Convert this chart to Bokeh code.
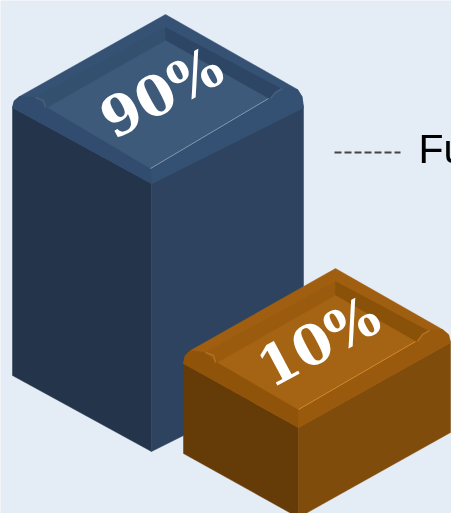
from bokeh.plotting import figure
from bokeh.embed import file_html
from bokeh.resources import INLINE
from bokeh.core.properties import value
from bokeh.models import Range1d

# ---- chart data ----
labels = ["90%", "10%"]
shares = [90, 10]
legend_label = "Fu"

# ---- page and styling ----
W, H = 451, 513
BG = "#E4ECF5"
palettes = [
    dict(left="#24344B", right="#2E435F", rim="#355174", lbev="#314C6E", rbev="#345073",
         wall_l="#33506F", wall_r="#2E4666", floor="#3E5A7A", hi="#8298B2", notch="#465F80"),
    dict(left="#653B08", right="#7F4C0C", rim="#A05F10", lbev="#8F540A", rbev="#9A5A0D",
         wall_l="#9A5B0E", wall_r="#8A5109", floor="#A56413", hi="#D08A30", notch="#AE7022"),
]
# box geometry in screen pixels (structure of the isometric drawing)
boxes = [
    dict(apex=(165, 14), lc=(19, 96), le=(12, 107), rc=(297, 89), re=(303, 107), fb=(151, 183),
         rim_a=(165, 27), rim_l=(35, 97), rim_r=(280, 88),
         fl_a=(165, 40), fl_l=(47, 107), fl_f=(150, 168), fl_r=(268, 98),
         txt=(161, 92)),
    dict(apex=(335, 268), lc=(190, 350), le=(183, 363), rc=(442, 329), re=(450, 342), fb=(298, 427),
         rim_a=(335, 281), rim_l=(205, 352), rim_r=(427, 330),
         fl_a=(335, 295), fl_l=(217, 362), fl_f=(298, 409), fl_r=(415, 341),
         txt=(318, 341)),
]
# side height grows with the share: 90 px at 10, 268 px at 90
def side_height(v):
    return 90 + (v - 10) * (268 - 90) / 80

p = figure(width=W, height=H, x_range=Range1d(0, W), y_range=Range1d(H, 0),
           output_backend="svg", toolbar_location=None, min_border=0,
           background_fill_color=BG, border_fill_color=BG, outline_line_color=None,
           styles={"position": "fixed", "left": "0px", "top": "0px"})
p.axis.visible = False
p.grid.visible = False


def poly(pts, color):
    p.patch([q[0] for q in pts], [q[1] for q in pts], fill_color=color,
            line_color=color, line_width=0.5)


def corner(edge, top):
    return (edge[0] + (top[0] - edge[0]) * 0.25, edge[1] + (top[1] - edge[1]) * 0.6)


for label, share, b, c in zip(labels, shares, boxes, palettes):
    h = side_height(share)
    down = lambda q: (q[0], q[1] + h)
    lm, rm = corner(b["le"], b["lc"]), corner(b["re"], b["rc"])
    # side faces
    poly([b["le"], b["fb"], down(b["fb"]), down(b["le"])], c["left"])
    poly([b["fb"], b["re"], down(b["re"]), down(b["fb"])], c["right"])
    # upper rim
    poly([b["apex"], b["lc"], lm, b["le"], b["fb"], b["re"], rm, b["rc"]], c["rim"])
    # front bevels
    poly([b["le"], lm, b["lc"], b["rim_l"], b["fl_l"], b["fl_f"], b["fb"]], c["lbev"])
    poly([b["fb"], b["fl_f"], b["fl_r"], b["rim_r"], b["rc"], rm, b["re"]], c["rbev"])
    # back walls of the tray
    poly([b["rim_a"], b["rim_l"], b["fl_l"], b["fl_a"]], c["wall_l"])
    poly([b["rim_a"], b["rim_r"], b["fl_r"], b["fl_a"]], c["wall_r"])
    # tray floor
    poly([b["fl_a"], b["fl_l"], b["fl_f"], b["fl_r"]], c["floor"])
    # highlights
    p.line([b["fl_f"][0], b["fl_r"][0]], [b["fl_f"][1], b["fl_r"][1]], line_color=c["hi"], line_width=1)
    p.line([b["rim_l"][0], b["rim_l"][0] + 8, b["fl_l"][0] - 2],
           [b["rim_l"][1], b["rim_l"][1] + 3, b["fl_l"][1]], line_color=c["notch"], line_width=1.5)
    p.line([b["rim_r"][0] + 2, b["rim_r"][0] - 5, b["fl_r"][0] + 2],
           [b["rim_r"][1], b["rim_r"][1] + 4, b["fl_r"][1]], line_color=c["notch"], line_width=1.5)
    # share label
    p.text([b["txt"][0]], [b["txt"][1]], text=[label], angle=28, angle_units="deg",
           text_color="white", text_font=value("DejaVu Serif"), text_font_style="bold",
           text_font_size="55px", text_align="center", text_baseline="middle")

# leader line and clipped legend text
p.line([334, 400], [152, 152], line_color="#444444", line_width=2, line_dash="7 3")
p.text([418], [148], text=[legend_label], text_color="black", text_font=value("Liberation Sans"),
       text_font_size="41px", text_align="left", text_baseline="alphabetic")

open("out.html", "w").write(file_html(p, INLINE))
